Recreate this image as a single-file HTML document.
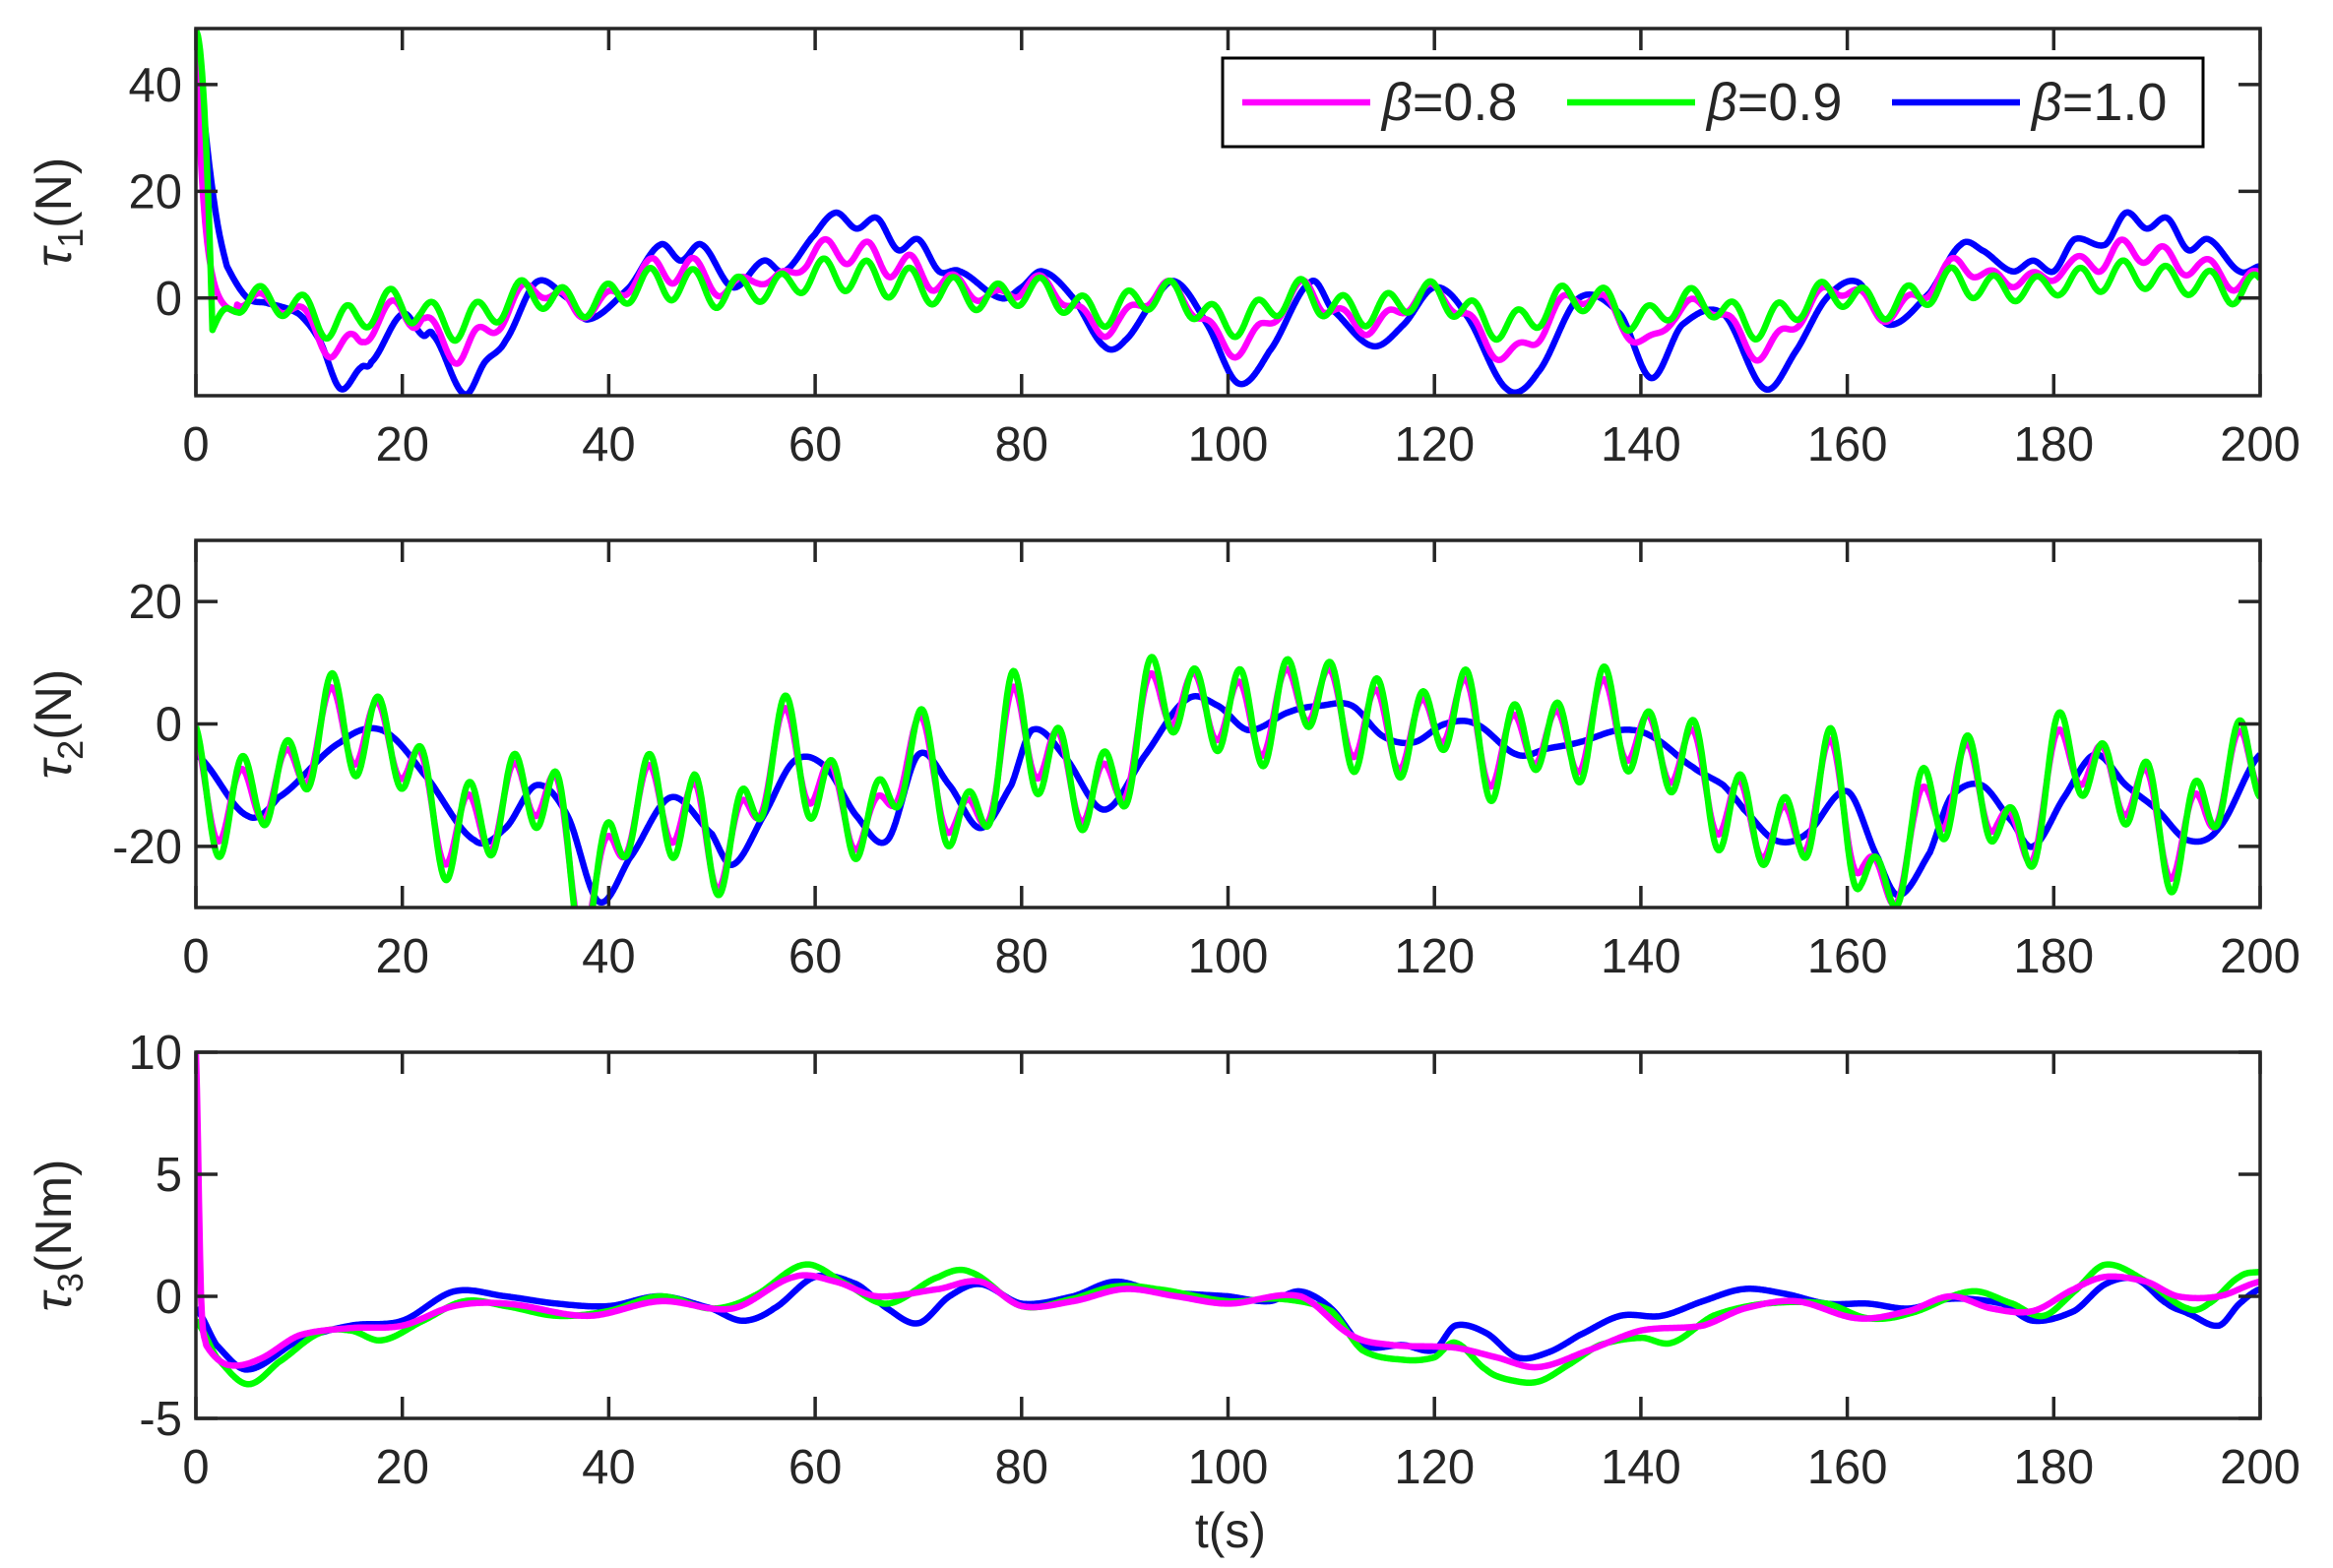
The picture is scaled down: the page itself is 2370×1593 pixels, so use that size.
<!DOCTYPE html>
<html><head><meta charset="utf-8"><style>
html,body{margin:0;padding:0;background:#fff;}
svg{display:block;}
text{font-family:"Liberation Sans",Arial,sans-serif;fill:#262626;}
</style></head><body>
<svg id="s" width="2370" height="1593" xmlns="http://www.w3.org/2000/svg"></svg>
<script>
const S=document.getElementById('s');
const NS='http://www.w3.org/2000/svg';
function el(t,a,p){const e=document.createElementNS(NS,t);for(const k in a)e.setAttribute(k,a[k]);(p||S).appendChild(e);return e;}
const X0=199,X1=2296;
const panels=[
 {top:29,bot:402,ymin:-18.3,ymax:50.5,ticks:[0,20,40],lab:'1',unit:'(N)'},
 {top:549,bot:922,ymin:-30,ymax:30,ticks:[-20,0,20],lab:'2',unit:'(N)'},
 {top:1069,bot:1441,ymin:-5,ymax:10,ticks:[-5,0,5,10],lab:'3',unit:'(Nm)'}
];
function interp(pts,t){
 if(t<=pts[0][0])return pts[0][1];
 for(let i=0;i<pts.length-1;i++){
  if(t<=pts[i+1][0]){
   const p0=pts[Math.max(i-1,0)],p1=pts[i],p2=pts[i+1],p3=pts[Math.min(i+2,pts.length-1)];
   const u=(t-p1[0])/(p2[0]-p1[0]);
   const m1=(p2[1]-p0[1])/2,m2=(p3[1]-p1[1])/2;
   const h00=2*u*u*u-3*u*u+1,h10=u*u*u-2*u*u+u,h01=-2*u*u*u+3*u*u,h11=u*u*u-u*u;
   return h00*p1[1]+h10*m1+h01*p2[1]+h11*m2;
  }
 }
 return pts[pts.length-1][1];
}
const B1=[[0,50],[1,30],[2,15],[3,6],[5,0],[7,-1],[10,-3],[12,-8],[14,-17],[16,-13],[17,-12],[20,-3],[22,-7],[23,-7],[26,-18],[28,-12],[30,-8],[33,3],[36,0],[38,-4],[42,2],[45,10],[47,7],[49,10],[52,2],[55,7],[57,5],[60,12],[62,16],[64,13],[66,15],[68,9],[70,11],[72,5],[74,5],[78,0],[80,2],[82,5],[85,0],[88,-9],[90,-8],[93,0],[95,3],[98,-5],[101,-16],[104,-10],[108,3],[110,-2],[114,-9],[117,-5],[120,2],[123,-3],[127,-17],[130,-14],[134,0],[138,-3],[141,-15],[144,-5],[148,-3],[152,-17],[155,-10],[158,0],[161,3],[164,-5],[168,1],[171,10],[173,9],[176,5],[178,7],[180,5],[182,11],[185,10],[187,16],[189,13],[191,15],[193,9],[195,11],[198,5],[200,6]];
const B2=[[0,-5],[5,-15],[8,-12],[14,-3],[18,-1],[22,-8],[27,-19],[30,-17],[33,-10],[36,-15],[39,-29],[42,-22],[46,-12],[50,-18],[52,-23],[55,-15],[58,-6],[61,-7],[64,-15],[67,-19],[70,-5],[73,-10],[76,-17],[79,-10],[81,-1],[84,-5],[88,-14],[92,-5],[96,4],[99,3],[102,-1],[106,2],[109,3],[112,3],[115,-2],[118,-3],[121,0],[124,0],[128,-5],[131,-4],[134,-3],[138,-1],[141,-2],[145,-7],[148,-10],[150,-14],[153,-19],[156,-18],[160,-11],[163,-22],[165,-28],[168,-21],[170,-12],[173,-10],[176,-16],[178,-20],[181,-12],[184,-5],[187,-10],[190,-14],[193,-19],[196,-17],[200,-5]];
const B3=[[0,-0.5],[2,-2],[5,-3],[10,-1.8],[15,-1.2],[20,-1],[25,0.2],[30,0],[35,-0.3],[40,-0.4],[45,0],[50,-0.5],[53,-1],[56,-0.5],[60,0.8],[64,0.5],[67,-0.5],[70,-1.1],[73,0],[76,0.5],[80,-0.3],[85,0],[89,0.6],[93,0.2],[100,0],[104,-0.2],[107,0.2],[110,-0.5],[113,-2],[117,-2],[120,-2.2],[122,-1.2],[125,-1.5],[128,-2.5],[131,-2.3],[134,-1.6],[138,-0.8],[142,-0.8],[146,-0.2],[150,0.3],[154,0.1],[158,-0.3],[162,-0.3],[166,-0.5],[170,-0.1],[175,-0.3],[178,-1],[182,-0.6],[185,0.5],[188,0.7],[191,-0.3],[193,-0.7],[196,-1.2],[198,-0.3],[200,0.3]];
const P3=[[0,10],[0.5,0],[1,-2],[3,-2.8],[6,-2.6],[10,-1.6],[15,-1.3],[20,-1.2],[25,-0.4],[30,-0.3],[38,-0.8],[45,-0.2],[52,-0.5],[58,0.8],[62,0.6],[66,0],[72,0.3],[76,0.6],[80,-0.4],[85,-0.2],[90,0.3],[95,0],[100,-0.3],[107,0],[112,-1.6],[116,-2],[122,-2.1],[126,-2.5],[130,-2.9],[135,-2.2],[140,-1.4],[146,-1.2],[150,-0.5],[155,-0.2],[161,-0.9],[166,-0.6],[170,0],[174,-0.5],[178,-0.6],[182,0.3],[185,0.8],[189,0.6],[192,0],[196,0],[200,0.6]];
const G3=[[0,-1],[2,-2.5],[5,-3.6],[8,-2.7],[12,-1.5],[15,-1.4],[18,-1.8],[22,-1],[26,-0.2],[30,-0.4],[35,-0.8],[40,-0.6],[45,0],[50,-0.5],[54,0],[59,1.3],[63,0.5],[67,-0.3],[72,0.8],[75,1],[80,-0.4],[85,-0.1],[89,0.4],[93,0.3],[100,-0.2],[105,-0.1],[110,-0.6],[113,-2.2],[117,-2.6],[120,-2.5],[122,-1.9],[125,-3],[127,-3.4],[130,-3.5],[133,-2.8],[136,-2],[140,-1.7],[143,-1.9],[147,-0.8],[152,-0.3],[158,-0.3],[162,-0.9],[166,-0.7],[172,0.2],[176,-0.3],[179,-0.8],[182,0.2],[185,1.3],[189,0.6],[193,-0.5],[195,-0.3],[198,0.8],[200,1]];
function osc(t,ph){return Math.sin(2*Math.PI*(t-ph)/4.4)+0.35*Math.sin(2*Math.PI*(t-ph)/7.3+1.1);}
function fn(p,k){
 if(p==0){
  if(k=='b')return t=>interp(B1,t);
  if(k=='m')return t=>{if(t<4)return 50*Math.exp(-t/0.8)+(-3)*(1-Math.exp(-t/0.8));return 0.6*interp(B1,t+0.8)+1.5*Math.sin(2*Math.PI*(t-1)/4.2);};
  return t=>{if(t<1.6)return 50-(56*t/1.6)*(t/1.6)+0;const g=0.3*interp(B1,t+1.2)+2.6*Math.sin(2*Math.PI*(t-1)/4.2);return t<4?-6+(t-1.6)/2.4*(g+6):g;};
 }
 if(p==1){
  if(k=='b')return t=>interp(B2,t);
  if(k=='m')return t=>interp(B2,t+1.5)+5.5*osc(t,12)+1;
  return t=>interp(B2,t+1.7)+7*osc(t,12.1)+1;
 }
 if(k=='b')return t=>interp(B3,t);
 if(k=='m')return t=>interp(P3,t);
 return t=>interp(G3,t);
}
const col={b:'#0000ff',m:'#ff00ff',g:'#00ff00'};
panels.forEach((P,i)=>{
 const W=X1-X0,H=P.bot-P.top;
 const sx=t=>X0+t/200*W, sy=v=>P.bot-(v-P.ymin)/(P.ymax-P.ymin)*H;
 const cp=el('clipPath',{id:'c'+i});el('rect',{x:X0,y:P.top,width:W,height:H},cp);
 const g=el('g',{'clip-path':'url(#c'+i+')'});
 const order=i==2?['b','g','m']:['b','m','g'];
 order.forEach(k=>{
  const f=fn(i,k);let d='';
  for(let t=0;t<=200.001;t+=0.1){const v=f(t);d+=(d?'L':'M')+sx(t).toFixed(1)+','+sy(v).toFixed(1);}
  el('path',{d:d,fill:'none',stroke:col[k],'stroke-width':6.5,'stroke-linejoin':'round'},g);
 });
 el('rect',{x:X0,y:P.top,width:W,height:H,fill:'none',stroke:'#262626','stroke-width':3.5});
 for(let t=0;t<=200;t+=20){const x=sx(t);
  el('line',{x1:x,y1:P.bot,x2:x,y2:P.bot-22,stroke:'#262626','stroke-width':3.5});
  el('line',{x1:x,y1:P.top,x2:x,y2:P.top+22,stroke:'#262626','stroke-width':3.5});
  const tx=el('text',{x:x,y:P.bot+66,'font-size':49,'text-anchor':'middle'});tx.textContent=t;}
 P.ticks.forEach(v=>{const y=sy(v);
  el('line',{x1:X0,y1:y,x2:X0+22,y2:y,stroke:'#262626','stroke-width':3.5});
  el('line',{x1:X1,y1:y,x2:X1-22,y2:y,stroke:'#262626','stroke-width':3.5});
  const tx=el('text',{x:X0-14,y:y+17,'font-size':49,'text-anchor':'end'});tx.textContent=v;});
 const cy=(P.top+P.bot)/2;
 const yl=el('text',{x:0,y:0,'font-size':52,'text-anchor':'middle',transform:'translate(72,'+cy+') rotate(-90)'});
 yl.innerHTML='<tspan font-style="italic">τ</tspan><tspan font-size="36" dy="12">'+P.lab+'</tspan><tspan dy="-12">'+P.unit+'</tspan>';
});
const xl=el('text',{x:1250,y:1572,'font-size':50,'text-anchor':'middle'});xl.textContent='t(s)';
// legend
el('rect',{x:1242,y:59,width:996,height:90,fill:'#fff',stroke:'#000','stroke-width':3});
[['m','0.8',1262],['g','0.9',1592],['b','1.0',1922]].forEach(a=>{
 el('line',{x1:a[2],y1:104,x2:a[2]+130,y2:104,stroke:col[a[0]],'stroke-width':6.5});
 const t=el('text',{x:a[2]+142,y:122,'font-size':54,'font-family':'Liberation Serif'});
 t.innerHTML='<tspan font-style="italic">β</tspan>=' +a[1];
});
</script>
</body></html>
